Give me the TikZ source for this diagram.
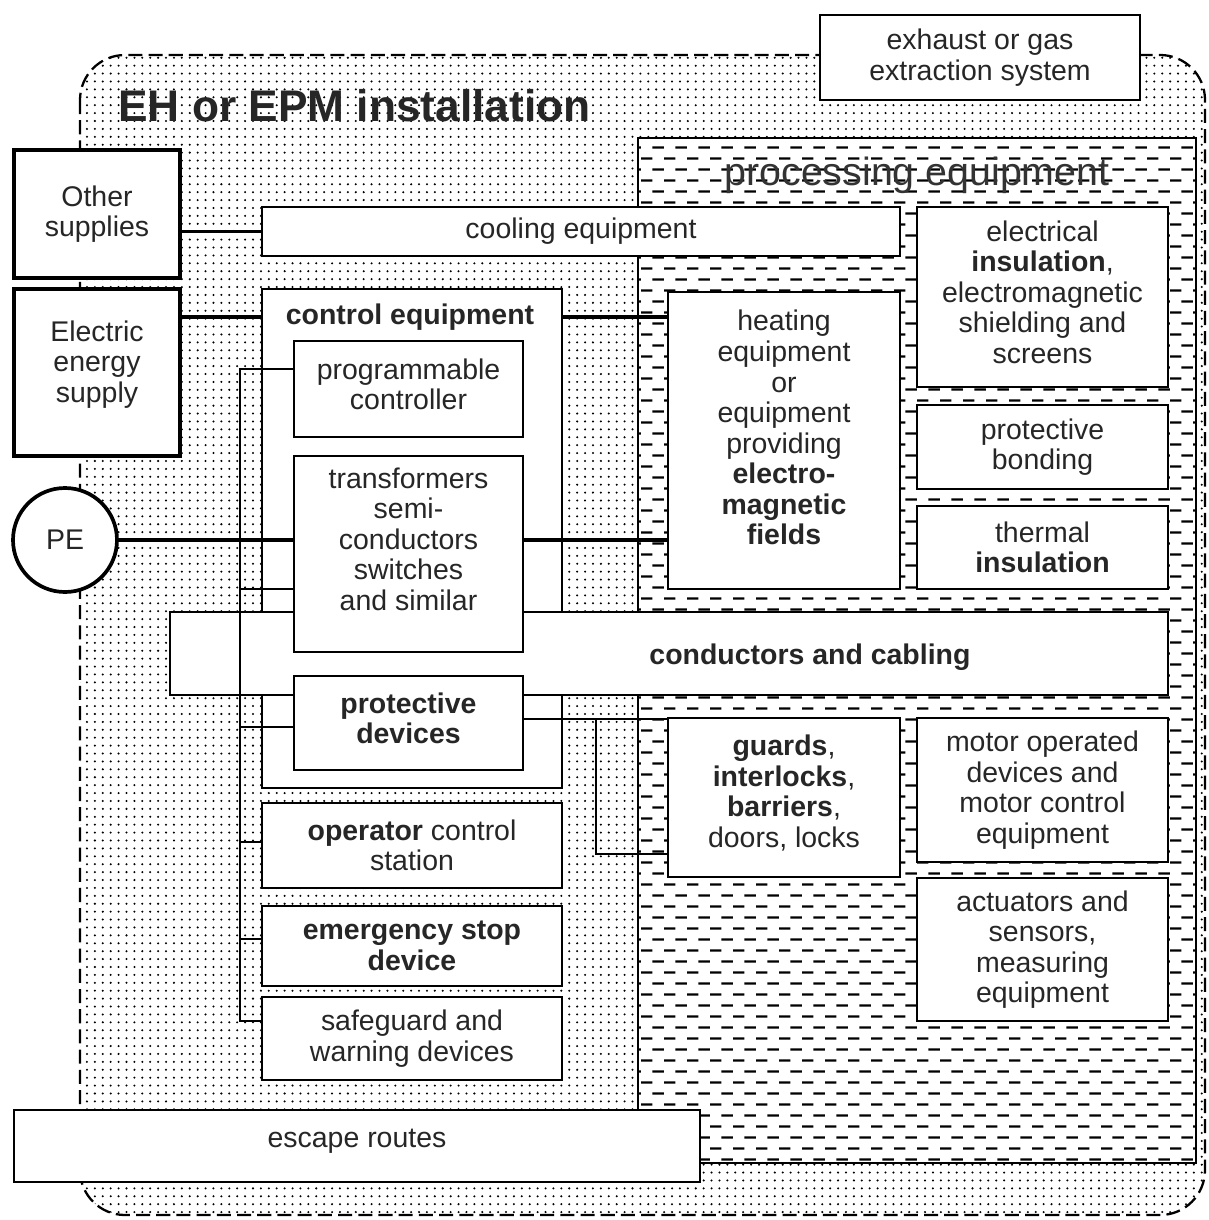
\documentclass[tikz,border=0pt]{standalone}
\usepackage{fontspec}
\setmainfont{Liberation Sans}
\usetikzlibrary{patterns.meta}

\newcommand{\boxfont}{\fontsize{16.2}{17.4}\selectfont}

% fill patterns of the two areas
\tikzdeclarepattern{
  name=dotgrid,
  bottom left={(-0.7pt,-0.7pt)},
  top right={(0.7pt,0.7pt)},
  tile size={(4.5pt,4.5pt)},
  code={\fill (0pt,0pt) circle (0.65pt);}
}
\tikzdeclarepattern{
  name=dashrows,
  bottom left={(0pt,0pt)},
  top right={(13.04pt,12.8pt)},
  tile size={(13.04pt,12.8pt)},
  code={\draw[line width=1.4pt] (0pt,3.2pt) -- (6.5pt,3.2pt) (6.52pt,9.6pt) -- (13.04pt,9.6pt);}
}

\tikzset{
  box/.style={draw, fill=white, line width=1.1pt, align=center, inner sep=2pt, text=black!85, font=\boxfont},
  heavybox/.style={box, line width=2.1pt},
  wh/.style 2 args={minimum width=#1*0.02cm, minimum height=#2*0.02cm},
  wire/.style={line width=1pt},
  feed/.style={line width=1.8pt},
  region/.style={line width=1.3pt, dash pattern=on 8pt off 3.5pt, rounded corners=0.9cm, pattern=dotgrid},
}

\begin{document}
\begin{tikzpicture}[x=0.02cm, y=-0.02cm]
    \useasboundingbox (0,0) rectangle (1208,1220);
    % installation and processing area
    \draw[region] (80,55) rectangle (1205,1215);
    \draw[line width=1pt, preaction={fill=white}, pattern=dashrows] (638,138) rectangle (1196,1163);

    \node[box, wh={320}{85}] (exh) at (980,57.5) {exhaust or gas\\extraction system};
    \node[anchor=west, inner sep=0, text=black!85, font=\fontsize{25.2}{28}\selectfont\bfseries] (title) at (118,106) {EH or EPM installation};
    \node[inner sep=0, text=black!80, font=\fontsize{22.4}{26}\selectfont] (proclabel) at (917,175) {processing equipment};

    % supplies
    \node[heavybox, wh={166}{128}] (oth) at (97,214) {Other\\supplies};
    \node[heavybox, wh={166}{167}, text depth=12.4pt] (elec) at (97,372.5) {Electric\\energy\\supply};
    \node[heavybox, circle, minimum size=104*0.02cm] (pe) at (65,540) {PE};

    \node[box, wh={638}{49}] (cool) at (581,231.5) {cooling equipment};
    \node[box, wh={300}{499}] (ctrl) at (412,538.5) {};
    \node[inner sep=0, text=black!85, font=\boxfont\bfseries] (ctrlt) at (410,317) {control equipment};
    \node[box, font=\boxfont\bfseries, wh={998}{83}, text height=16.3pt] (cab) at (669,653.5) {\hspace*{5.64cm}conductors and cabling};

    \node[box, wh={229}{96}, text depth=5.7pt] (prog) at (408.5,389) {programmable\\controller};
    \node[box, wh={229}{196}, text depth=17pt] (trans) at (408.5,554) {transformers\\semi-\\conductors\\switches\\and similar};
    \node[box, font=\boxfont\bfseries, wh={229}{94}, text depth=5.7pt] (prot) at (408.5,723) {protective\\devices};

    % processing equipment
    \node[box, wh={232}{297}, text depth=14.7pt] (heat) at (784,440.5) {heating\\equipment\\or\\equipment\\providing\\\textbf{electro-}\\\textbf{magnetic}\\\textbf{fields}};
    \node[box, wh={251}{180}, text depth=5.7pt] (ins) at (1042.5,297) {electrical\\\textbf{insulation},\\electromagnetic\\shielding and\\screens};
    \node[box, wh={251}{84}] (bond) at (1042.5,447) {protective\\bonding};
    \node[box, wh={251}{83}] (therm) at (1042.5,547.5) {thermal\\\textbf{insulation}};
    \node[box, wh={232}{159}, text depth=7.2pt] (guard) at (784,797.5) {\textbf{guards},\\\textbf{interlocks},\\\textbf{barriers},\\doors, locks};
    \node[box, wh={251}{144}] (motor) at (1042.5,790) {motor operated\\devices and\\motor control\\equipment};
    \node[box, wh={251}{143}] (act) at (1042.5,949.5) {actuators and\\sensors,\\measuring\\equipment};

    \node[box, wh={300}{85}] (oper) at (412,845.5) {\textbf{operator} control\\station};
    \node[box, font=\boxfont\bfseries, wh={300}{80}] (estop) at (412,946) {emergency stop\\device};
    \node[box, wh={300}{83}] (safe) at (412,1038.5) {safeguard and\\warning devices};
    \node[box, wh={686}{72}, text depth=9pt] (esc) at (357,1146) {escape routes};

    % control wiring
    \coordinate (busa) at (240,369);
    \coordinate (busb) at (240,589);
    \coordinate (busc) at (240,727);
    \coordinate (busd) at (240,842);
    \coordinate (buse) at (240,939);
    \coordinate (busf) at (240,1021);
    \draw[wire] (busa -| prog.west) -- (busa) -- (busf) -- (busf -| safe.west);
    \draw[wire] (busb) -- (busb -| trans.west);
    \draw[wire] (busc) -- (busc -| prot.west);
    \draw[wire] (busd) -- (busd -| oper.west);
    \draw[wire] (buse) -- (buse -| estop.west);

    \coordinate (gfork) at (596,719);
    \coordinate (gbend) at (596,854);
    \draw[wire] (gfork -| prot.east) -- (gfork -| guard.west);
    \draw[wire] (gfork) -- (gbend) -- (gbend -| guard.west);

    % supply lines
    \draw[feed] (oth.east |- cool.west) -- (cool.west);
    \draw[feed] (ctrlt -| elec.east) -- (ctrlt -| ctrl.west);
    \draw[feed] (ctrlt -| ctrl.east) -- (ctrlt -| heat.west);
    \draw[feed] (pe) -- (pe -| trans.west);
    \draw[feed] (pe -| trans.east) -- (pe -| heat.west);
\end{tikzpicture}
\end{document}
